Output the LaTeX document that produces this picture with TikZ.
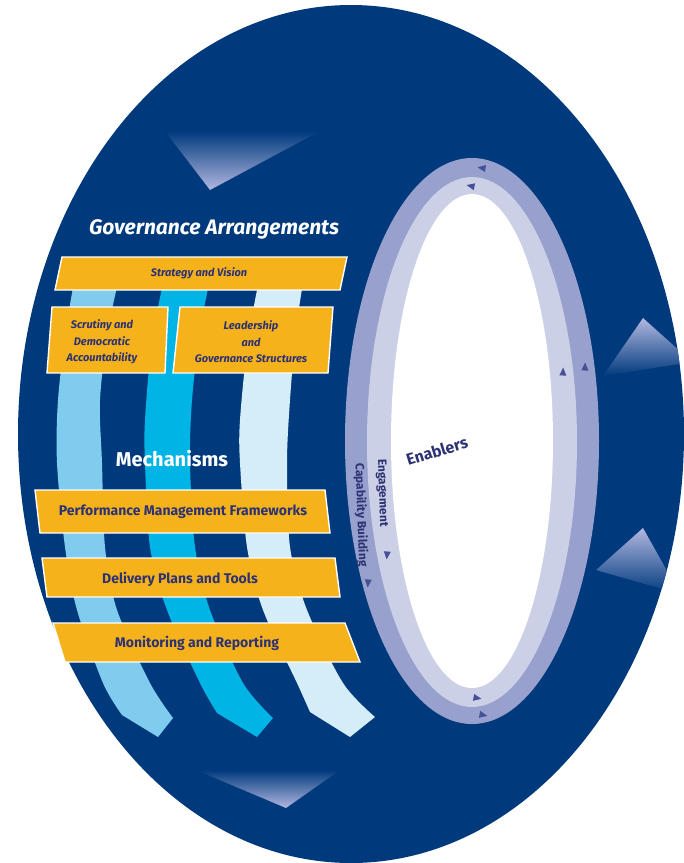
\documentclass[tikz,border=0pt]{standalone}
\usepackage{fontspec}
\setmainfont{Fira Sans}
\usetikzlibrary{shadings}
\definecolor{bigblue}{RGB}{0,58,125}
\definecolor{ringdark}{RGB}{152,160,205}
\definecolor{ringlight}{RGB}{203,208,230}
\definecolor{stripeA}{RGB}{128,204,238}
\definecolor{stripeB}{RGB}{0,180,230}
\definecolor{stripeC}{RGB}{213,237,249}
\definecolor{boxyellow}{RGB}{246,178,27}
\definecolor{labelnavy}{RGB}{45,50,115}
\definecolor{trilight}{RGB}{178,183,224}
\definecolor{tipnavy}{RGB}{70,80,150}
\begin{document}
\begin{tikzpicture}[x=1pt,y=-1pt,
  ybox/.style={fill=boxyellow, draw=white, line width=1.4pt, line join=miter},
  govtext/.style={text=labelnavy, font=\bfseries\itshape\fontsize{11}{16.5}\selectfont, align=center, inner sep=0pt},
  mechtext/.style={text=labelnavy, font=\bfseries\fontsize{14}{16}\selectfont, inner sep=0pt},
  headtext/.style={text=white, font=\bfseries\fontsize{20}{22}\selectfont, inner sep=0pt},
  ringtext/.style={text=labelnavy, font=\bfseries\fontsize{12}{13}\selectfont, inner sep=0pt},
  ringtip/.pic={\fill[tipnavy] (4.5,0) -- (-3.5,3.5) -- (-3.5,-3.5) -- cycle;}
]
\useasboundingbox (0,0) rectangle (684,863);
% big blue egg
\fill[bigblue] (351,434) ellipse [x radius=333, y radius=429];
% decorative gradient triangles
\shade[top color=bigblue, bottom color=trilight] (165,131) -- (320,131) -- (210,190) -- cycle;
\shade[top color=bigblue, bottom color=trilight] (196,770) -- (340,770) -- (286,808) -- cycle;
\begin{scope}
\clip (351,434) ellipse [x radius=333, y radius=429];
\shade[top color=trilight, bottom color=bigblue] (643,318) -- (603,376) -- (692,362) -- cycle;
\shade[top color=trilight, bottom color=bigblue] (643,528) -- (596,570) -- (680,594) -- cycle;
\end{scope}
% curved stripes
\fill[stripeA] plot[smooth] coordinates {(76,270) (66,330) (58,400) (57,463) (65,547) (77,610) (103,683) (122,715)}
  -- (158,737) -- plot[smooth] coordinates {(173,718) (150,683) (117,610) (105,547) (102,463) (100,400) (108,330) (121,270)} -- cycle;
\fill[stripeB] plot[smooth] coordinates {(166,270) (152,340) (145,420) (145,463) (150,547) (167,610) (200,683) (217,713)}
  -- (257,737) -- plot[smooth] coordinates {(273,718) (243,683) (210,610) (195,547) (190,463) (192,400) (200,330) (212,270)} -- cycle;
\fill[stripeC] plot[smooth] coordinates {(261,270) (248,340) (240,420) (240,463) (247,547) (263,610) (297,683) (310,712)}
  -- (350,737) -- plot[smooth] coordinates {(375,717) (343,683) (307,610) (290,547) (287,463) (290,400) (296,330) (305,270)} -- cycle;
% enablers ring
\fill[ringdark] (472,441) ellipse [x radius=127, y radius=283];
\fill[ringlight] (472,442) ellipse [x radius=105, y radius=265];
\fill[white] (472,441) ellipse [x radius=81, y radius=247];
% ring arrow tips (anticlockwise flow)
\pic[rotate=172] at (482,168) {ringtip};
\pic[rotate=168] at (471,186) {ringtip};
\pic[rotate=-95] at (368,583) {ringtip};
\pic[rotate=-95] at (387,555) {ringtip};
\pic[rotate=-10] at (477,698) {ringtip};
\pic[rotate=-12] at (483,715) {ringtip};
\pic[rotate=88] at (585,367) {ringtip};
\pic[rotate=88] at (563,372) {ringtip};
% ring labels
\node[ringtext, rotate=-88] (engage) at (382,493) {Engagement};
\node[ringtext, rotate=-88] (capab) at (361,515) {Capability Building};
\node[text=labelnavy, font=\bfseries\fontsize{16}{18}\selectfont, rotate=17, inner sep=0pt] (enablers) at (437,451) {Enablers};
% governance arrangements
\node[headtext, font=\bfseries\itshape\fontsize{21}{23}\selectfont] (govhead) at (214,229) {Governance Arrangements};
\fill[ybox] (62,257) -- (347,257) -- (340,290) -- (55,290) -- cycle;
\node[govtext] (strategy) at (199,273) {Strategy and Vision};
\fill[ybox] (52,307) -- (168,307) -- (165,373) -- (47,373) -- cycle;
\node[govtext] (scrutiny) at (102,342) {Scrutiny and\\Democratic\\Accountability};
\fill[ybox] (180,307) -- (333,307) -- (328,373) -- (173,373) -- cycle;
\node[govtext] (leadership) at (251,342) {Leadership\\and\\Governance Structures};
% mechanisms
\node[headtext] (mechhead) at (172,459) {Mechanisms};
\fill[ybox] (35,490) -- (325,490) -- (330,533) -- (40,533) -- cycle;
\node[mechtext] (perf) at (183,512) {Performance Management Frameworks};
\fill[ybox] (42,558) -- (335,558) -- (340,597) -- (47,597) -- cycle;
\node[mechtext] (delivery) at (180,579) {Delivery Plans and Tools};
\fill[ybox] (53,623) -- (345,623) -- (360,662) -- (65,662) -- cycle;
\node[mechtext] (monitor) at (197,643) {Monitoring and Reporting};
\end{tikzpicture}
\end{document}
